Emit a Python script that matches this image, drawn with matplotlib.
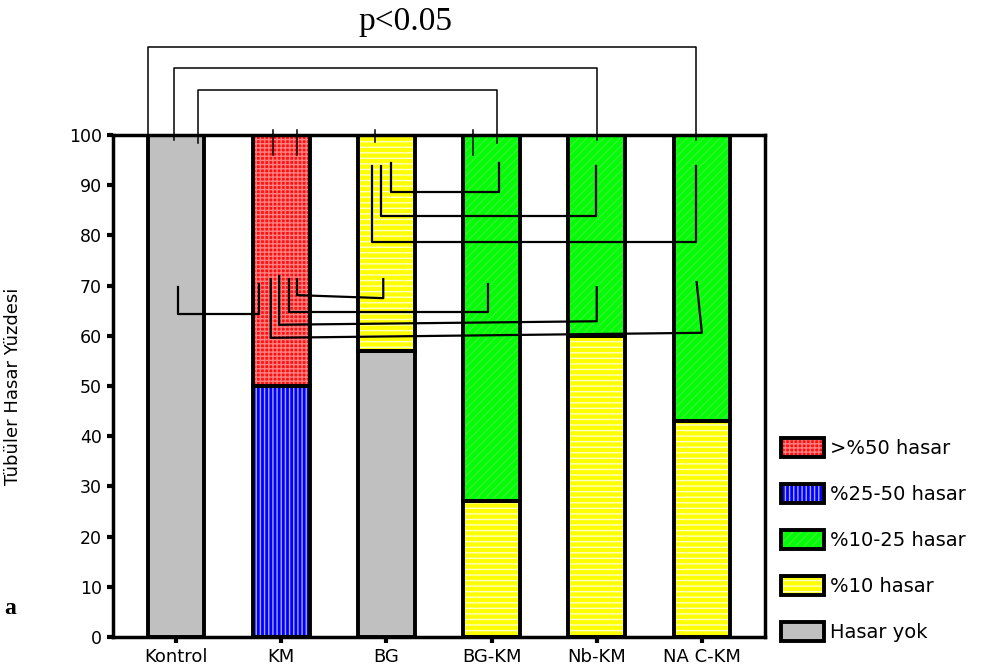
import numpy as np
import matplotlib
matplotlib.use("Agg")
import matplotlib.pyplot as plt
from matplotlib.patches import Patch
from matplotlib.legend_handler import HandlerTuple

# Gruplar ve hasar yuzdeleri (alttan uste yigin sirasi)
groups = ['Kontrol', 'KM', 'BG', 'BG-KM', 'Nb-KM', 'NA C-KM']
hasar_yok = [100, 0, 57, 0, 0, 0]
hasar_10 = [0, 0, 43, 27, 60, 43]
hasar_10_25 = [0, 0, 0, 73, 40, 57]
hasar_25_50 = [0, 50, 0, 0, 0, 0]
hasar_50 = [0, 50, 0, 0, 0, 0]

series = [
    ('Hasar yok', hasar_yok, '#c0c0c0', '', '#c0c0c0'),
    ('%10 hasar', hasar_10, '#ffff00', '---', '#ffffc8'),
    ('%10-25 hasar', hasar_10_25, '#00ff00', '////', '#40e840'),
    ('%25-50 hasar', hasar_25_50, '#0000ff', '||||', '#a8a8ff'),
    ('>%50 hasar', hasar_50, '#ff1010', '++++', '#ff8080'),
]

# anlamlilik cizgileri: (x1, ust1, alt1, x2, alt2, x2_ust, ust2) veri biriminde
brackets_inner = [
    (2.04, 94.4, 88.6, 3.07, 88.6, 3.07, 94.4),
    (1.945, 93.8, 83.9, 3.99, 83.9, 3.99, 93.8),
    (1.86, 93.8, 78.7, 4.94, 78.7, 4.94, 93.8),
    (0.02, 69.7, 64.3, 0.79, 64.3, 0.79, 70.3),
    (1.15, 71.3, 68.1, 1.97, 67.5, 1.97, 71.3),
    (1.07, 71.3, 64.7, 2.97, 64.7, 2.97, 70.3),
    (0.98, 71.9, 62.2, 4.0, 62.9, 4.0, 69.7),
    (0.90, 71.3, 59.6, 5.0, 60.6, 4.95, 70.7),
]
brackets_top = [
    (-0.27, 4.94, 117.5, 99.0),
    (-0.02, 4.00, 113.3, 99.0),
    (0.21, 3.05, 109.0, 98.5),
]
top_ticks = [(0.92, 96.0), (1.15, 96.0), (1.89, 98.6), (2.82, 96.0)]

plt.rcParams['font.family'] = ['DejaVu Sans']
plt.rcParams['hatch.linewidth'] = 1.0

fig = plt.figure(figsize=(9.84, 6.70), dpi=100)
ax = fig.add_axes([113 / 984, 1 - 637 / 670, 652 / 984, 502 / 670])

x = np.arange(len(groups))
width = 0.54
bottom = np.zeros(len(groups))
handles = []
labels = []
for name, vals, fc, hatch, hc in series:
    vals = np.array(vals, dtype=float)
    idx = vals > 0
    ax.bar(x[idx], vals[idx], width, bottom=bottom[idx], color=fc,
           hatch=hatch, edgecolor=hc, linewidth=0, zorder=2)
    ax.bar(x[idx], vals[idx], width, bottom=bottom[idx], facecolor='none',
           edgecolor='black', linewidth=2.8, zorder=3)
    bottom = bottom + vals
    handles.append((Patch(facecolor=fc, hatch=hatch, edgecolor=hc, linewidth=0),
                    Patch(facecolor='none', edgecolor='black', linewidth=2.8)))
    labels.append(name)

for b in brackets_inner:
    x1, u1, a1, x2, a2, x2u, u2 = b
    ax.plot([x1, x1, x2, x2u], [u1, a1, a2, u2], color='black', lw=1.6,
            zorder=4, clip_on=False)
for x1, x2, top, low in brackets_top:
    ax.plot([x1, x1, x2, x2], [low, top, top, low], color='black', lw=1.1,
            zorder=4, clip_on=False)
for tx, ty in top_ticks:
    ax.plot([tx, tx], [101, ty], color='black', lw=1.1, zorder=4, clip_on=False)

ax.set_xlim(-0.6, 5.6)
ax.set_ylim(0, 100)
ax.set_yticks(range(0, 101, 10))
ax.set_xticks(x)
ax.set_xticklabels(groups)
for s in ax.spines.values():
    s.set_linewidth(2.5)
ax.tick_params(axis='y', length=4, width=3, labelsize=12.5, pad=4)
ax.tick_params(axis='x', length=4, width=3, labelsize=13, pad=4)
ax.set_ylabel('Tübüler Hasar Yüzdesi', fontsize=13)
ax.yaxis.set_label_coords(-0.14, 0.5)

fig.legend(handles[::-1], labels[::-1],
           handler_map={tuple: HandlerTuple(ndivide=1, pad=0)},
           loc='upper left', bbox_to_anchor=(781 / 984, 1 - 438 / 670), frameon=False,
           fontsize=14, handlelength=2.2, handleheight=1.15, labelspacing=1.32,
           handletextpad=0.3, borderpad=0, borderaxespad=0)

fig.text(405 / 984, 1 - 22 / 670, 'p<0.05', family='Liberation Serif', fontsize=24,
         ha='center', va='center')
fig.text(0.004, 1 - 608 / 670, 'a', family='Liberation Serif', fontsize=17,
         fontweight='bold', ha='left', va='center')

fig.savefig('out.png', dpi=100)
